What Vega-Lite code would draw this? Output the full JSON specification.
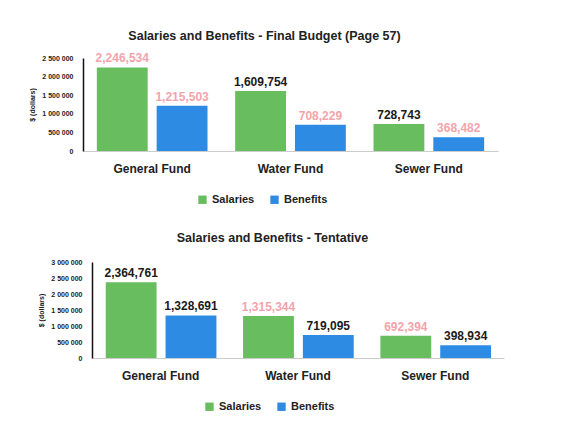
{
  "$schema": "https://vega.github.io/schema/vega-lite/v6.json",
  "background": "white",
  "padding": {"left": 28, "top": 29, "right": 10, "bottom": 5},
  "config": {
    "font": "Liberation Sans",
    "view": {"stroke": null},
    "title": {"fontSize": 12.5, "fontWeight": "bold", "color": "#222", "anchor": "middle", "offset": 14},
    "concat": {"spacing": 26},
    "legend": {"direction": "horizontal", "symbolType": "square", "symbolSize": 70, "labelFontSize": 11, "labelFontWeight": "bold", "labelColor": "#222", "columnPadding": 14, "title": null}
  },
  "datasets": {
    "final": [
      {"fund": "General Fund", "type": "Salaries", "amount": 2246534},
      {"fund": "General Fund", "type": "Benefits", "amount": 1215503},
      {"fund": "Water Fund", "type": "Salaries", "amount": 1609754},
      {"fund": "Water Fund", "type": "Benefits", "amount": 708229},
      {"fund": "Sewer Fund", "type": "Salaries", "amount": 728743},
      {"fund": "Sewer Fund", "type": "Benefits", "amount": 368482}
    ],
    "tentative": [
      {"fund": "General Fund", "type": "Salaries", "amount": 2364761},
      {"fund": "General Fund", "type": "Benefits", "amount": 1328691},
      {"fund": "Water Fund", "type": "Salaries", "amount": 1315344},
      {"fund": "Water Fund", "type": "Benefits", "amount": 719095},
      {"fund": "Sewer Fund", "type": "Salaries", "amount": 692394},
      {"fund": "Sewer Fund", "type": "Benefits", "amount": 398934}
    ]
  },
  "vconcat": [
    {
      "title": {"text": "Salaries and Benefits - Final Budget (Page 57)", "offset": 10, "dx": -26},
      "width": 415,
      "height": 93,
      "data": {"name": "final"},
      "encoding": {
        "x": {"field": "fund", "type": "nominal", "sort": ["General Fund", "Water Fund", "Sewer Fund"], "scale": {"paddingInner": 0.2, "paddingOuter": 0.1},
          "axis": {"title": null, "labelAngle": 0, "labelFontSize": 12, "labelFontWeight": "bold", "labelColor": "#222", "ticks": false, "domainColor": "#ccc", "labelPadding": 12}},
        "xOffset": {"field": "type", "type": "nominal", "sort": ["Salaries", "Benefits"], "scale": {"paddingInner": 0.15}},
        "y": {"field": "amount", "type": "quantitative", "scale": {"domain": [0, 2500000]},
          "axis": {"title": "$ (dollars)", "titleFontSize": 7, "titleFontWeight": "bold", "titleColor": "#222", "titlePadding": 6, "values": [0, 500000, 1000000, 1500000, 2000000, 2500000], "labelExpr": "replace(format(datum.value, ','), regexp(',', 'g'), ' ')", "labelFontSize": 7, "labelFontWeight": "bold", "labelColor": "#222", "ticks": false, "grid": false, "domainColor": "#111", "domainWidth": 1.5, "labelPadding": 10}}
      },
      "layer": [
        {"mark": {"type": "bar"}, "encoding": {"color": {"field": "type", "type": "nominal", "sort": ["Salaries", "Benefits"], "scale": {"domain": ["Salaries", "Benefits"], "range": ["#68bd5f", "#2d8be4"]},
          "legend": {"orient": "none", "legendX": 114, "legendY": 136}}}},
        {"mark": {"type": "text", "dy": -9, "fontSize": 12, "fontWeight": "bold"},
          "encoding": {"text": {"field": "amount", "type": "quantitative", "format": ","},
            "color": {"condition": {"test": "indexof([2246534, 1215503, 708229, 368482], datum.amount) >= 0", "value": "#f5a3aa"}, "value": "#1a1a1a"}}}
      ]
    },
    {
      "title": {"text": "Salaries and Benefits - Tentative", "offset": 14, "dx": -21},
      "width": 421,
      "height": 96,
      "data": {"name": "tentative"},
      "encoding": {
        "x": {"field": "fund", "type": "nominal", "sort": ["General Fund", "Water Fund", "Sewer Fund"], "scale": {"paddingInner": 0.2, "paddingOuter": 0.1, "range": [9, 421]},
          "axis": {"title": null, "labelAngle": 0, "labelFontSize": 12, "labelFontWeight": "bold", "labelColor": "#222", "ticks": false, "domainColor": "#ccc", "labelPadding": 12}},
        "xOffset": {"field": "type", "type": "nominal", "sort": ["Salaries", "Benefits"], "scale": {"paddingInner": 0.15}},
        "y": {"field": "amount", "type": "quantitative", "scale": {"domain": [0, 3000000]},
          "axis": {"title": "$ (dollars)", "titleFontSize": 7, "titleFontWeight": "bold", "titleColor": "#222", "titlePadding": 6, "offset": -9, "values": [0, 500000, 1000000, 1500000, 2000000, 2500000, 3000000], "labelExpr": "replace(format(datum.value, ','), regexp(',', 'g'), ' ')", "labelFontSize": 7, "labelFontWeight": "bold", "labelColor": "#222", "ticks": false, "grid": false, "domainColor": "#111", "domainWidth": 1.5, "labelPadding": 10}}
      },
      "layer": [
        {"mark": {"type": "bar"}, "encoding": {"color": {"field": "type", "type": "nominal", "sort": ["Salaries", "Benefits"], "scale": {"domain": ["Salaries", "Benefits"], "range": ["#68bd5f", "#2d8be4"]},
          "legend": {"orient": "none", "legendX": 121, "legendY": 139}}}},
        {"mark": {"type": "text", "dy": -9, "fontSize": 12, "fontWeight": "bold"},
          "encoding": {"text": {"field": "amount", "type": "quantitative", "format": ","},
            "color": {"condition": {"test": "indexof([1315344, 692394], datum.amount) >= 0", "value": "#f5a3aa"}, "value": "#1a1a1a"}}}
      ]
    }
  ],
  "resolve": {"scale": {"color": "independent"}, "legend": {"color": "independent"}}
}
